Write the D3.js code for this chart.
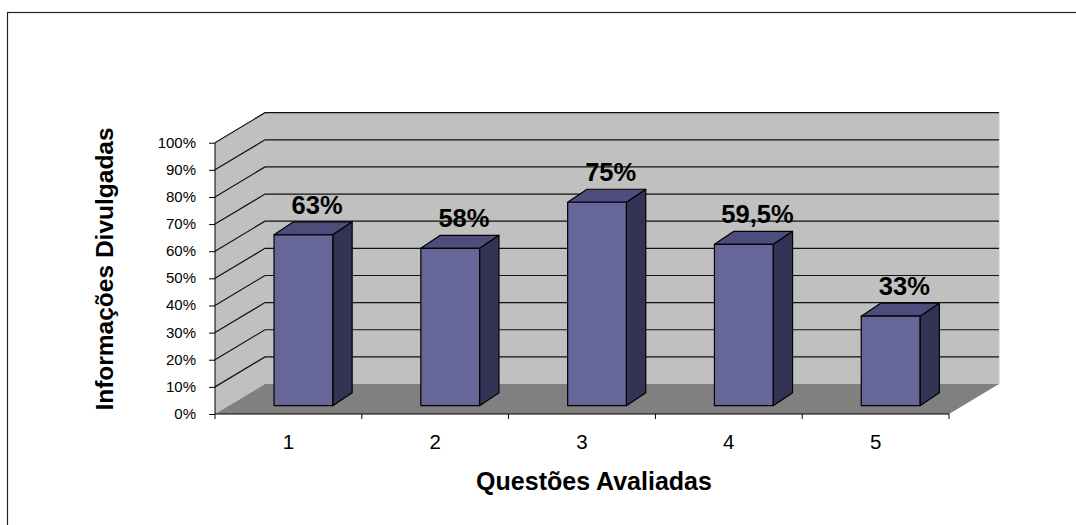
<!DOCTYPE html>
<html><head><meta charset="utf-8">
<script src="https://cdn.jsdelivr.net/npm/d3@7"></script>
<style>
html,body{margin:0;padding:0;background:#fff;}
svg{display:block;font-family:"Liberation Sans",Arial,sans-serif;}
</style></head>
<body>
<svg id="chart" width="1076" height="525"></svg>
<script>
const categories = ["1","2","3","4","5"];
const values = [0.63, 0.58, 0.75, 0.595, 0.33];
const valueLabels = ["63%","58%","75%","59,5%","33%"];
const yTicks = [0,0.1,0.2,0.3,0.4,0.5,0.6,0.7,0.8,0.9,1.0];
const yTitle = "Informações Divulgadas";
const xTitle = "Questões Avaliadas";

const svg = d3.select("#chart");

// frame
svg.append("rect").attr("x",7.5).attr("y",12.5).attr("width",1100).attr("height",600)
  .attr("fill","none").attr("stroke","#222").attr("stroke-width",1.2);

const x = d3.scaleBand().domain(categories).range([215, 949]).paddingInner(0).paddingOuter(0);
const y = d3.scaleLinear().domain([0,1]).range([414, 142.7]);
const DX = 50, DY = -30;   // wall depth
const bw = x.bandwidth();
const x0 = x.range()[0], x1 = x.range()[1];

// back wall
svg.append("rect").attr("x", x0+DX).attr("y", y(1)+DY)
  .attr("width", x1-x0).attr("height", y(0)-y(1))
  .attr("fill","#c0c0c0").attr("stroke","#c8c8c8").attr("stroke-width",1);
// side wall
svg.append("polygon")
  .attr("points", [[x0,y(0)],[x0,y(1)],[x0+DX,y(1)+DY],[x0+DX,y(0)+DY]].map(p=>p.join(",")).join(" "))
  .attr("fill","#c0c0c0");
// floor
svg.append("polygon")
  .attr("points", [[x0,y(0)],[x0+DX,y(0)+DY],[x1+DX,y(0)+DY],[x1,y(0)]].map(p=>p.join(",")).join(" "))
  .attr("fill","#808080");

// gridlines
const grid = svg.append("g").attr("stroke","#111").attr("stroke-width",1.2).attr("fill","none");
yTicks.filter(t=>t>0).forEach(t=>{
  const yy = y(t);
  grid.append("path").attr("d", `M${x0},${yy}L${x0+DX},${yy+DY}L${x1+DX},${yy+DY}`);
});

// y axis
const yAxis = d3.axisLeft(y).tickValues(yTicks).tickFormat(d3.format(".0%")).tickSize(6).tickPadding(13);
const ya = svg.append("g").attr("transform",`translate(${x0},0)`).call(yAxis);
ya.select(".domain").attr("stroke","#000").attr("d", `M0,${y(1)}V${y(0)}`);
ya.selectAll(".tick line").attr("stroke","#000");
ya.selectAll(".tick text").attr("font-size","15px").attr("fill","#000")
  .attr("font-family","Liberation Sans, Arial, sans-serif").attr("dy","0.3em");

// x axis line + ticks at boundaries
svg.append("line").attr("x1",x0).attr("x2",x1).attr("y1",y(0)).attr("y2",y(0)).attr("stroke","#000");
categories.forEach(c=>{
  svg.append("line").attr("x1",x(c)).attr("x2",x(c)).attr("y1",y(0)).attr("y2",y(0)+5).attr("stroke","#000");
});
svg.append("line").attr("x1",x1).attr("x2",x1).attr("y1",y(0)).attr("y2",y(0)+5).attr("stroke","#000");
svg.selectAll("text.cat").data(categories).enter().append("text").attr("class","cat")
  .attr("x", d=>x(d)+bw/2).attr("y", 449).attr("text-anchor","middle")
  .attr("font-size","20.5px").text(d=>d);

// bars
const FX = 15, FY = -8.3;        // bar front plane offset
const BDX = 19.4, BDY = -13;     // bar depth
const barW = bw/2.5;
const g = svg.append("g").attr("stroke","#000").attr("stroke-width",1.2).attr("stroke-linejoin","round");
categories.forEach((c,i)=>{
  const v = values[i];
  const L = x(c) + bw*0.3 + FX, R = L + barW;
  const B = y(0) + FY, T = y(v) + FY;
  g.append("polygon").attr("fill","#333355")
    .attr("points",[[R,B],[R,T],[R+BDX,T+BDY],[R+BDX,B+BDY]].map(p=>p.join(",")).join(" "));
  g.append("polygon").attr("fill","#4d4d7d")
    .attr("points",[[L,T],[L+BDX,T+BDY],[R+BDX,T+BDY],[R,T]].map(p=>p.join(",")).join(" "));
  g.append("rect").attr("fill","#666699").attr("x",L).attr("y",T).attr("width",barW).attr("height",B-T);
  svg.append("text").attr("x",(L+R+BDX)/2+4).attr("y",T+BDY-8)
    .attr("text-anchor","middle").attr("font-size","25.5px").attr("font-weight","bold")
    .text(valueLabels[i]);
});

// titles
svg.append("text").attr("x",594).attr("y",490).attr("text-anchor","middle")
  .attr("font-size","25px").attr("font-weight","bold").text(xTitle);
svg.append("text").attr("transform","translate(113,269) rotate(-90)").attr("text-anchor","middle")
  .attr("font-size","24.5px").attr("font-weight","bold").text(yTitle);
</script>
</body></html>
